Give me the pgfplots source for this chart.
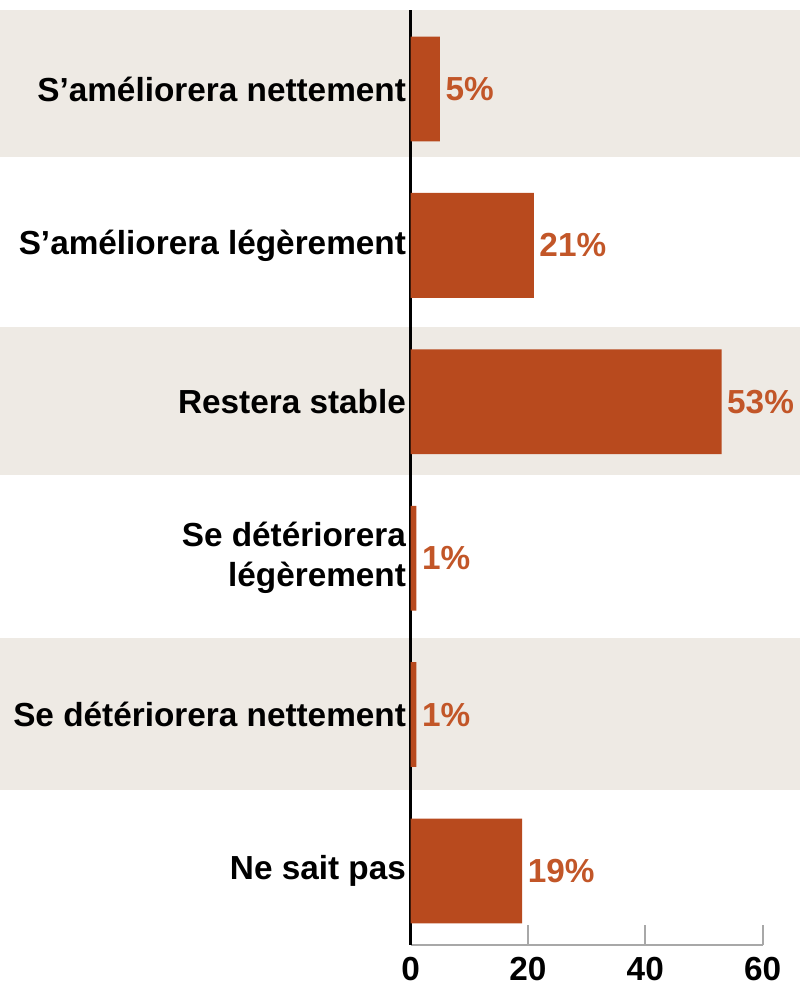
\documentclass[border=0pt]{standalone}
\usepackage{fontspec}
\setmainfont{Liberation Sans}
\usepackage{pgfplots}
\pgfplotsset{compat=1.18}
\definecolor{barc}{HTML}{B84A1E}
\definecolor{bandc}{HTML}{EEEAE4}
\definecolor{valc}{HTML}{C25628}
\definecolor{tickc}{HTML}{A8A8A8}
\begin{document}
\begin{tikzpicture}
\begin{axis}[
  set layers,
  scale only axis,
  width=105.6pt, height=280.5pt,
  xmin=0, xmax=60, ymin=-0.473, ymax=5.505,
  clip=false,
  bar width=0.67,
  axis lines*=left,
  x axis line style={tickc, line width=0.7pt},
  y axis line style={black, line width=1pt},
  xtick={0,20,40,60},
  ytick={0,...,5},
  yticklabels={Ne sait pas, Se détériorera nettement, {Se détériorera\\légèrement}, Restera stable, S'améliorera légèrement, S'améliorera nettement},
  yticklabel style={align=right, inner sep=1.2pt, font=\fontsize{10}{12}\selectfont\bfseries},
  xticklabel style={font=\fontsize{10}{12}\selectfont\bfseries},
  tick align=inside,
  xtick style={tickc, line width=0.6pt},
  ytick style={draw=none},
  major tick length=6pt,
  /pgf/number format/assume math mode=true,
]
% background bands
\addplot[fill=bandc, draw=none, on layer=axis background] coordinates {(-70,4.565) (66.3,4.565) (66.3,5.505) (-70,5.505)} -- cycle;
\addplot[fill=bandc, draw=none, on layer=axis background] coordinates {(-70,2.53) (66.3,2.53) (66.3,3.48) (-70,3.48)} -- cycle;
\addplot[fill=bandc, draw=none, on layer=axis background] coordinates {(-70,0.52) (66.3,0.52) (66.3,1.49) (-70,1.49)} -- cycle;
\path (axis cs:-70,-0.793) rectangle (axis cs:66.3,5.569);
\addplot[xbar, fill=barc, draw=none,
  nodes near coords={\pgfmathprintnumber{\pgfplotspointmeta}\%},
  nodes near coords style={font=\fontsize{10}{12}\selectfont\bfseries, text=valc, inner sep=1.5pt},
] coordinates {
  (5,5)
  (21,4)
  (53,3)
  (1,2)
  (1,1)
  (19,0)
};
\end{axis}
\end{tikzpicture}
\end{document}
